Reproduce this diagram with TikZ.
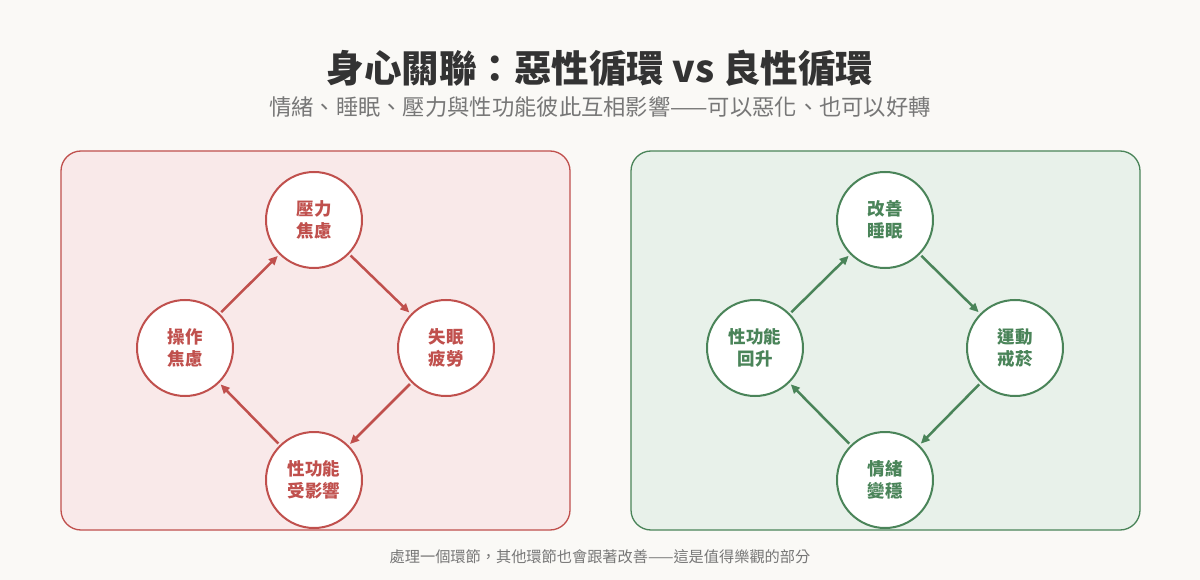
\documentclass[tikz,border=0pt]{standalone}
\usepackage{fontspec}
\setmainfont{Noto Sans CJK TC}
\usetikzlibrary{arrows.meta}
\definecolor{bg}{HTML}{FAF9F6}
\definecolor{redc}{HTML}{C0504D}
\definecolor{redf}{HTML}{F9E9E9}
\definecolor{grnc}{HTML}{4A8459}
\definecolor{grnf}{HTML}{E8F1EA}
\definecolor{tgray}{HTML}{333333}
\definecolor{sgray}{HTML}{777777}
\begin{document}
\begin{tikzpicture}[x=1pt,y=-1pt,
  panel/.style={rounded corners=20pt,line width=1.3pt},
  circ/.style={circle,minimum size=96pt,inner sep=0pt,fill=white,line width=2pt,align=center,font=\bfseries\fontsize{17.5}{22}\selectfont},
  rc/.style={circ,draw=redc,text=redc},
  gc/.style={circ,draw=grnc,text=grnc},
  arr/.style={-{Triangle[length=9pt,width=8pt]},line width=2.5pt,shorten <=2pt,shorten >=2pt}]
\fill[bg] (0,0) rectangle (1200,580);
\useasboundingbox (0,0) rectangle (1200,580);
\node[font=\bfseries\fontsize{37.5}{42}\selectfont,text=tgray] (title) at (600,68) {身心關聯：惡性循環 vs 良性循環};
\node[font=\fontsize{22.3}{26}\selectfont,text=sgray] (sub) at (600,107) {情緒、睡眠、壓力與性功能彼此互相影響——可以惡化、也可以好轉};
\node[draw=redc,fill=redf,panel,minimum width=509pt,minimum height=379pt] (lp) at (315.5,340.5) {};
\node[draw=grnc,fill=grnf,panel,minimum width=509pt,minimum height=379pt] (rp) at (885.5,340.5) {};
\node[rc] (a1) at (314,220) {壓力\\焦慮};
\node[rc] (a2) at (446,348) {失眠\\疲勞};
\node[rc] (a3) at (314,480) {性功能\\受影響};
\node[rc] (a4) at (185,348) {操作\\焦慮};
\draw[arr,redc] (a1) -- (a2);
\draw[arr,redc] (a2) -- (a3);
\draw[arr,redc] (a3) -- (a4);
\draw[arr,redc] (a4) -- (a1);
\node[gc] (b1) at (885,220) {改善\\睡眠};
\node[gc] (b2) at (1015,348) {運動\\戒菸};
\node[gc] (b3) at (885,480) {情緒\\變穩};
\node[gc] (b4) at (755,348) {性功能\\回升};
\draw[arr,grnc] (b1) -- (b2);
\draw[arr,grnc] (b2) -- (b3);
\draw[arr,grnc] (b3) -- (b4);
\draw[arr,grnc] (b4) -- (b1);
\node[font=\fontsize{15.2}{18}\selectfont,text=sgray] (foot) at (600,557) {處理一個環節，其他環節也會跟著改善——這是值得樂觀的部分};
\end{tikzpicture}
\end{document}
